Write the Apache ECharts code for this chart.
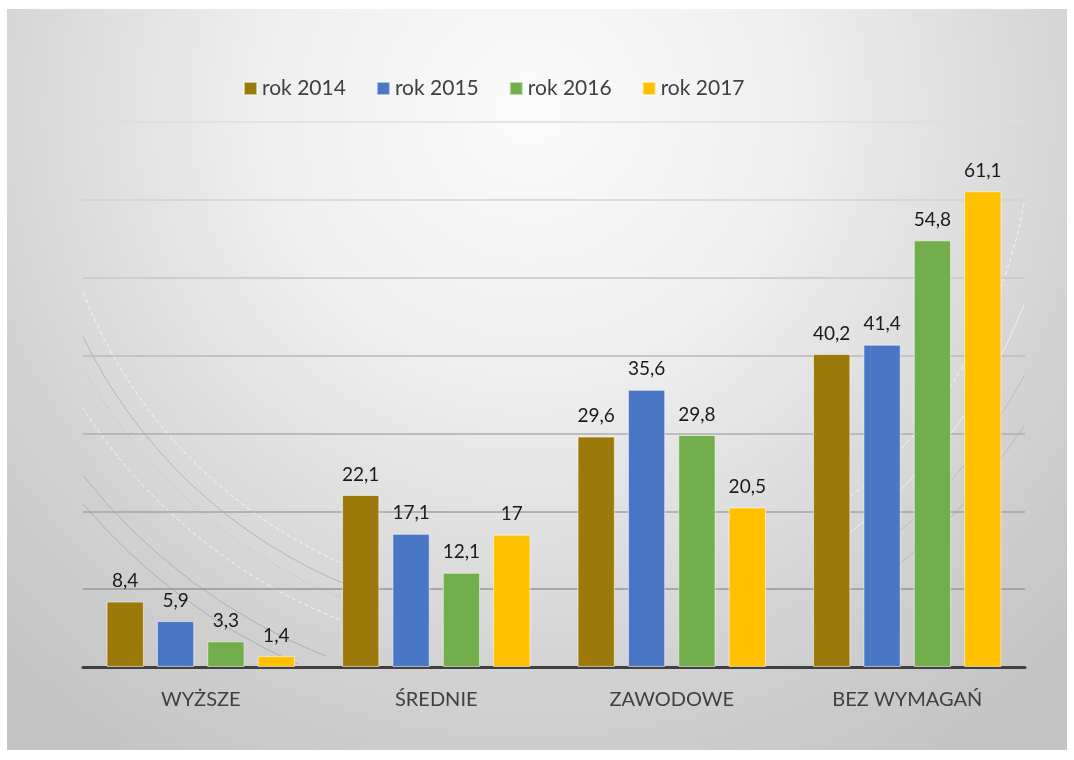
<!DOCTYPE html>
<html>
<head>
<meta charset="utf-8">
<script src="https://cdn.jsdelivr.net/npm/echarts@6/dist/echarts.min.js"></script>
<style>
  html, body { margin: 0; padding: 0; background: #fff; }
  #chart { width: 1074px; height: 760px; }
</style>
</head>
<body>
<div id="chart"></div>
<script>
var categories = ['WYŻSZE', 'ŚREDNIE', 'ZAWODOWE', 'BEZ WYMAGAŃ'];
var seriesNames = ['rok 2014', 'rok 2015', 'rok 2016', 'rok 2017'];
var rok2014 = [8.4, 22.1, 29.6, 40.2];
var rok2015 = [5.9, 17.1, 35.6, 41.4];
var rok2016 = [3.3, 12.1, 29.8, 54.8];
var rok2017 = [1.4, 17, 20.5, 61.1];
var colors = ['#9b790a', '#4a76c6', '#72ae4b', '#ffc000'];

var font = 'Lato, "Open Sans", sans-serif';

// dekoracyjne łuki tła (wzór szablonu), przycięte do obszaru wykresu
var cx = 540, cy = 115, plotL = 83, plotR = 1024, plotB = 664;
var leftArcs = [[490, 'wd'], [508, 'g'], [522, 'gd'], [543, 'wd'], [582, 'g'], [600, 'g']];
var rightArcs = [[492, 'wd'], [520, 'w'], [550, 'g'], [575, 'g']];
function arcStyle(kind, side) {
    var k = side === 'r' ? 0.7 : 1;
    if (kind === 'w') return { stroke: 'rgba(255,255,255,0.6)', fill: null, lineWidth: 1 };
    if (kind === 'wd') return { stroke: 'rgba(255,255,255,0.75)', fill: null, lineWidth: 1, lineDash: [4, 3] };
    if (kind === 'gd') return { stroke: 'rgba(100,100,100,' + 0.28 * k + ')', fill: null, lineWidth: 1, lineDash: [1, 3] };
    return { stroke: 'rgba(100,100,100,' + 0.3 * k + ')', fill: null, lineWidth: 1 };
}
var arcs = [];
var bottomLimit = function (r) {
    var s = (plotB - cy) / r;
    return s < 1 ? Math.PI - Math.asin(s) : Math.PI / 2;
};
leftArcs.forEach(function (a) {
    arcs.push({ type: 'arc', z: -50, silent: true,
        shape: { cx: cx, cy: cy, r: a[0],
            startAngle: Math.max(Math.PI * 0.62, bottomLimit(a[0])),
            endAngle: Math.acos((plotL - cx) / a[0]) },
        style: arcStyle(a[1], 'l') });
});
rightArcs.forEach(function (a) {
    arcs.push({ type: 'arc', z: -50, silent: true,
        shape: { cx: cx, cy: cy, r: a[0], startAngle: Math.acos((plotR - cx) / a[0]), endAngle: Math.PI * 0.3 },
        style: arcStyle(a[1], 'r') });
});

function mkSeries(name, data, idx) {
    return {
        name: name,
        type: 'bar',
        data: data,
        barGap: '35%',
        barCategoryGap: '20%',
        itemStyle: {
            color: colors[idx],
            borderColor: 'rgba(255,255,255,0.55)',
            borderWidth: 1
        },
        label: {
            show: true,
            position: 'top',
            distance: 11,
            color: '#1a1a1a',
            fontSize: 19,
            fontFamily: font,
            formatter: function (p) { return String(p.value).replace('.', ','); }
        }
    };
}

var chart = echarts.init(document.getElementById('chart'));
chart.setOption({
    animation: false,
    color: colors,
    textStyle: { fontFamily: font },
    graphic: [{
        type: 'rect', z: -100, silent: true,
        shape: { x: 7, y: 9, width: 1060, height: 741 },
        style: {
            fill: {
                type: 'radial', x: 530, y: 110, r: 760, global: true,
                colorStops: [
                    { offset: 0, color: '#fbfbfb' },
                    { offset: 0.35, color: '#efefef' },
                    { offset: 0.75, color: '#d2d2d2' },
                    { offset: 1, color: '#c4c4c4' }
                ]
            }
        }
    }].concat(arcs),
    legend: {
        data: seriesNames,
        left: 238,
        top: 73,
        itemWidth: 13,
        itemHeight: 13,
        itemGap: 30,
        icon: 'rect',
        textStyle: { color: '#404040', fontSize: 21, fontFamily: font }
    },
    grid: { left: 83, right: 49, top: 122, bottom: 93, containLabel: false },
    xAxis: {
        type: 'category',
        data: categories,
        axisLine: { lineStyle: { color: '#404040', width: 3 } },
        axisTick: { show: false },
        axisLabel: { color: '#404040', fontSize: 20, fontFamily: font, margin: 23 }
    },
    yAxis: {
        type: 'value',
        min: 0,
        max: 70,
        interval: 10,
        axisLabel: { show: false },
        axisLine: { show: false },
        axisTick: { show: false },
        splitLine: {
            lineStyle: {
                width: 1.5,
                color: {
                    type: 'linear', x: 0, y: 122, x2: 0, y2: 600, global: true,
                    colorStops: [
                        { offset: 0, color: '#dedede' },
                        { offset: 1, color: '#959595' }
                    ]
                }
            }
        }
    },
    series: [
        mkSeries(seriesNames[0], rok2014, 0),
        mkSeries(seriesNames[1], rok2015, 1),
        mkSeries(seriesNames[2], rok2016, 2),
        mkSeries(seriesNames[3], rok2017, 3)
    ]
});
</script>
</body>
</html>
